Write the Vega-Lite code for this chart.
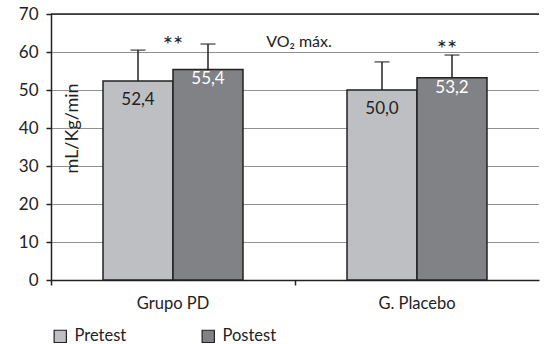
{
  "$schema": "https://vega.github.io/schema/vega-lite/v6.json",
  "width": 488,
  "height": 266,
  "autosize": {"type": "none"},
  "padding": {"left": 51, "top": 14, "right": 5, "bottom": 64},
  "background": "white",
  "config": {
    "font": "Lato",
    "view": {"stroke": null},
    "axisX": {
      "title": null,
      "labelAngle": 0,
      "bandPosition": 0,
      "labelFontSize": 16.5,
      "labelColor": "#222",
      "labelPadding": 10,
      "tickSize": 5,
      "tickColor": "#222",
      "tickWidth": 1.5,
      "domainColor": "#222",
      "domainWidth": 1.5,
      "grid": false
    },
    "axisY": {
      "tickCount": 7,
      "titleFontSize": 18,
      "titleFontWeight": "normal",
      "titleColor": "#222",
      "titleX": 21,
      "titleY": 114,
      "titleAngle": -90,
      "titleAlign": "center",
      "titleBaseline": "middle",
      "labelFontSize": 17,
      "labelColor": "#222",
      "labelPadding": 8,
      "tickSize": 5,
      "tickColor": "#222",
      "tickWidth": 1.5,
      "domainColor": "#222",
      "domainWidth": 1.5,
      "grid": true,
      "gridColor": "#222",
      "gridDash": [1, 1],
      "gridWidth": 1
    }
  },
  "title": {
    "text": "VO₂ máx.",
    "anchor": "middle",
    "orient": "top",
    "offset": 0,
    "baseline": "middle",
    "dy": 53,
    "dx": 4,
    "fontSize": 16,
    "fontWeight": "normal",
    "color": "#222"
  },
  "data": {
    "values": [
      {"group": "Grupo PD", "test": "Pretest", "value": 52.4, "upper": 60.5, "label": "52,4"},
      {"group": "Grupo PD", "test": "Postest", "value": 55.4, "upper": 62.1, "label": "55,4"},
      {"group": "G. Placebo", "test": "Pretest", "value": 50.0, "upper": 57.4, "label": "50,0"},
      {"group": "G. Placebo", "test": "Postest", "value": 53.2, "upper": 59.2, "label": "53,2"}
    ]
  },
  "layer": [
    {
      "mark": {"type": "bar", "stroke": "#222", "strokeWidth": 1.5},
      "encoding": {
        "x": {"field": "group", "type": "nominal", "sort": ["Grupo PD", "G. Placebo"], "scale": {"paddingInner": 0, "paddingOuter": 0}, "axis": {"title": null}},
        "xOffset": {"field": "test", "type": "nominal", "sort": ["Pretest", "Postest"], "scale": {"paddingInner": 0, "paddingOuter": 0.743}},
        "y": {
          "field": "value",
          "type": "quantitative",
          "scale": {"domain": [0, 70], "nice": false},
          "axis": {"title": "mL/Kg/min"}
        },
        "color": {
          "field": "test",
          "type": "nominal",
          "sort": ["Pretest", "Postest"],
          "scale": {"domain": ["Pretest", "Postest"], "range": ["#bebfc2", "#808285"]},
          "legend": {
            "title": null,
            "orient": "none",
            "legendX": 1,
            "legendY": 314,
            "direction": "horizontal",
            "symbolType": "square",
            "symbolSize": 150,
            "symbolStrokeColor": "#222",
            "symbolStrokeWidth": 1.2,
            "labelFontSize": 16.5,
            "labelColor": "#222",
            "labelOffset": 6,
            "columnPadding": 72
          }
        }
      }
    },
    {
      "mark": {"type": "rule", "color": "#222", "strokeWidth": 1.5},
      "encoding": {
        "x": {"field": "group", "type": "nominal", "sort": ["Grupo PD", "G. Placebo"]},
        "xOffset": {"field": "test", "type": "nominal", "sort": ["Pretest", "Postest"]},
        "y": {"field": "value", "type": "quantitative"},
        "y2": {"field": "upper"}
      }
    },
    {
      "mark": {"type": "tick", "color": "#222", "thickness": 1.5, "size": 15},
      "encoding": {
        "x": {"field": "group", "type": "nominal", "sort": ["Grupo PD", "G. Placebo"]},
        "xOffset": {"field": "test", "type": "nominal", "sort": ["Pretest", "Postest"]},
        "y": {"field": "upper", "type": "quantitative"}
      }
    },
    {
      "transform": [{"filter": "datum.test === 'Pretest'"}],
      "mark": {"type": "text", "baseline": "top", "dy": 11, "fontSize": 17, "color": "#222"},
      "encoding": {
        "x": {"field": "group", "type": "nominal", "sort": ["Grupo PD", "G. Placebo"]},
        "xOffset": {"field": "test", "type": "nominal", "sort": ["Pretest", "Postest"]},
        "y": {"field": "value", "type": "quantitative"},
        "text": {"field": "label"}
      }
    },
    {
      "transform": [{"filter": "datum.test === 'Postest'"}],
      "mark": {"type": "text", "baseline": "top", "dy": 2, "fontSize": 17, "color": "white"},
      "encoding": {
        "x": {"field": "group", "type": "nominal", "sort": ["Grupo PD", "G. Placebo"]},
        "xOffset": {"field": "test", "type": "nominal", "sort": ["Pretest", "Postest"]},
        "y": {"field": "value", "type": "quantitative"},
        "text": {"field": "label"}
      }
    },
    {
      "transform": [{"filter": "datum.group === 'Grupo PD' && datum.test === 'Postest'"}],
      "mark": {"type": "text", "baseline": "middle", "fontSize": 24, "color": "#222", "dx": -35},
      "encoding": {
        "x": {"field": "group", "type": "nominal", "sort": ["Grupo PD", "G. Placebo"]},
        "xOffset": {"field": "test", "type": "nominal", "sort": ["Pretest", "Postest"]},
        "y": {"datum": 61.5, "type": "quantitative"},
        "text": {"value": "**"}
      }
    },
    {
      "transform": [{"filter": "datum.group === 'G. Placebo' && datum.test === 'Postest'"}],
      "mark": {"type": "text", "baseline": "middle", "fontSize": 24, "color": "#222", "dx": -5},
      "encoding": {
        "x": {"field": "group", "type": "nominal", "sort": ["Grupo PD", "G. Placebo"]},
        "xOffset": {"field": "test", "type": "nominal", "sort": ["Pretest", "Postest"]},
        "y": {"datum": 60.5, "type": "quantitative"},
        "text": {"value": "**"}
      }
    },
    {
      "transform": [{"filter": "datum.group === 'Grupo PD' && datum.test === 'Pretest'"}],
      "mark": {"type": "rule", "color": "#222", "strokeWidth": 1.5},
      "encoding": {
        "y": {"datum": 70, "type": "quantitative"}
      }
    }
  ]
}
